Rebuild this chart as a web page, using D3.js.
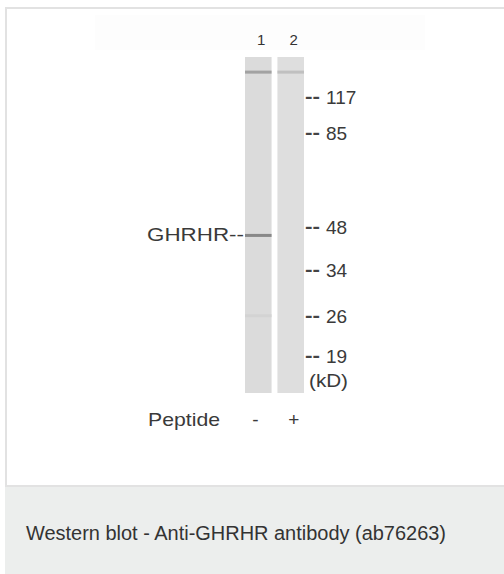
<!DOCTYPE html>
<html>
<head>
<meta charset="utf-8">
<script src="https://cdn.jsdelivr.net/npm/d3@7"></script>
<style>
  body { margin: 0; background: #fff; }
  text { font-family: "Liberation Sans", Arial, sans-serif; }
</style>
</head>
<body>
<div id="d3-container"></div>
<script>
// lanes and what was added to each
let lanes = ["1", "2"];
let peptide = ["-", "+"];

// molecular weight ladder (kD) and relative migration down the lane
let markerKd = ["117", "85", "48", "34", "26", "19"];
let markerMigration = [0.12, 0.227, 0.505, 0.635, 0.77, 0.89];

// bands seen on the blot
let bandLane = ["1", "2", "1", "1"];
let bandMigration = [0.045, 0.045, 0.531, 0.77];
let bandStrength = [0.5, 0.25, 0.72, 0.08];

let target = "GHRHR";
let targetMigration = 0.531;
let caption = "Western blot - Anti-GHRHR antibody (ab76263)";

let width = 504, height = 574;

let svg = d3.select('#d3-container')
  .append('svg')
  .attr('width', width)
  .attr('height', height);

// white panel with light border, grey caption strip below
svg.append("rect")
  .attr("x", 6).attr("y", 8)
  .attr("width", 504).attr("height", 478)
  .attr("fill", "#fff")
  .attr("stroke", "#e2e2e2")
  .attr("stroke-width", 2);

svg.append("rect")
  .attr("x", 5).attr("y", 487)
  .attr("width", 499).attr("height", 87)
  .attr("fill", "#eceeed");

svg.append("text")
  .attr("x", 26).attr("y", 540)
  .attr("font-size", 19.5)
  .attr("textLength", 420)
  .attr("lengthAdjust", "spacingAndGlyphs")
  .attr("fill", "#333")
  .text(caption);

// faint header strip behind lane numbers
svg.append("rect")
  .attr("x", 95).attr("y", 15)
  .attr("width", 330).attr("height", 35)
  .attr("fill", "#fdfdfd");

// scales
let x = d3.scaleBand().domain(lanes).range([245, 304]).paddingInner(0.18);
let y = d3.scaleLinear().domain([0, 1]).range([57, 393]);
let shade = d3.scaleLinear().domain([0, 1]).range(["#dcdcdc", "#5a5a5a"]);

// lanes
svg.selectAll(".lane")
  .data(lanes)
  .enter().append("rect")
  .attr("class", "lane")
  .attr("x", d => x(d))
  .attr("y", y(0))
  .attr("width", x.bandwidth())
  .attr("height", y(1) - y(0))
  .attr("fill", (d, i) => i == 0 ? "#dbdbdb" : "#dedede");

// bands
svg.selectAll(".band")
  .data(bandMigration)
  .enter().append("rect")
  .attr("class", "band")
  .attr("x", (d, i) => x(bandLane[i]))
  .attr("y", d => y(d) - 1.5)
  .attr("width", x.bandwidth())
  .attr("height", 3)
  .attr("fill", (d, i) => shade(bandStrength[i]))
  .attr("opacity", 0.9);

// lane numbers
svg.selectAll(".laneNum")
  .data(lanes)
  .enter().append("text")
  .attr("class", "laneNum")
  .attr("x", d => x(d) + x.bandwidth() / 2 + 3)
  .attr("y", 45)
  .attr("text-anchor", "middle")
  .attr("font-size", 15)
  .attr("fill", "#333")
  .text(d => d);

// ladder ticks and labels
let ladder = svg.selectAll(".marker")
  .data(markerKd)
  .enter().append("g")
  .attr("class", "marker")
  .attr("transform", (d, i) => "translate(0," + y(markerMigration[i]) + ")");

ladder.append("text")
  .attr("x", 305).attr("y", 6)
  .attr("font-size", 19)
  .attr("font-weight", "bold")
  .attr("textLength", 15)
  .attr("lengthAdjust", "spacingAndGlyphs")
  .attr("fill", "#444")
  .text("--");

ladder.append("text")
  .attr("x", 326).attr("y", 7)
  .attr("font-size", 19)
  .attr("fill", "#3a3a3a")
  .text(d => d);

svg.append("text")
  .attr("x", 309).attr("y", y(1) - 6)
  .attr("font-size", 19)
  .attr("textLength", 39)
  .attr("lengthAdjust", "spacingAndGlyphs")
  .attr("fill", "#3a3a3a")
  .text("(kD)");

// target label
svg.append("text")
  .attr("x", 147).attr("y", y(targetMigration) + 6)
  .attr("font-size", 19)
  .attr("textLength", 97)
  .attr("lengthAdjust", "spacingAndGlyphs")
  .attr("fill", "#3a3a3a")
  .text(target + "--");

// peptide row
svg.append("text")
  .attr("x", 148).attr("y", 426)
  .attr("font-size", 19)
  .attr("textLength", 72)
  .attr("lengthAdjust", "spacingAndGlyphs")
  .attr("fill", "#3a3a3a")
  .text("Peptide");

svg.selectAll(".pep")
  .data(peptide)
  .enter().append("text")
  .attr("class", "pep")
  .attr("x", (d, i) => x(lanes[i]) + x.bandwidth() / 2 + (i == 0 ? -3 : 3))
  .attr("y", 426)
  .attr("text-anchor", "middle")
  .attr("font-size", 19)
  .attr("fill", "#3a3a3a")
  .text(d => d);
</script>
</body>
</html>
